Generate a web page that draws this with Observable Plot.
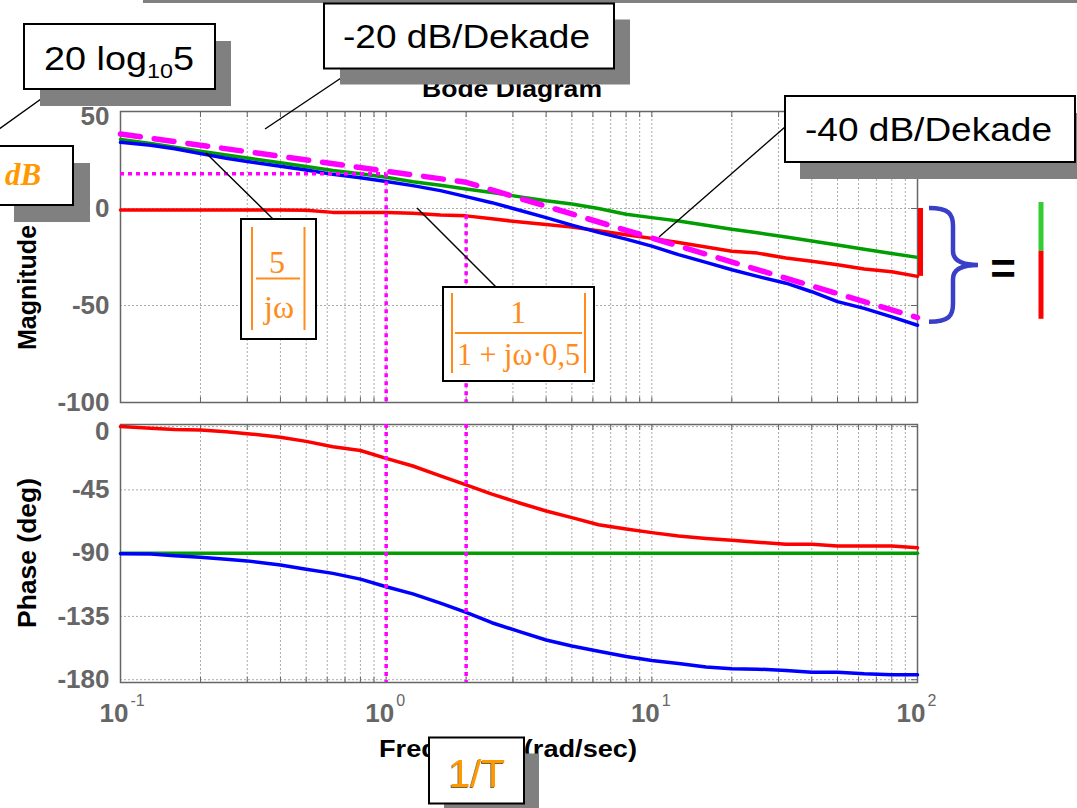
<!DOCTYPE html>
<html><head><meta charset="utf-8">
<script src="https://cdn.jsdelivr.net/npm/d3@7"></script>
<script src="https://cdn.jsdelivr.net/npm/@observablehq/plot@0.6"></script>
<style>
html,body{margin:0;padding:0;background:#fff;}
#wrap{position:relative;width:1077px;height:808px;overflow:hidden;background:#fff;font-family:"Liberation Sans",Arial,sans-serif;}
#mag,#phase{position:absolute;left:0;}
#mag{top:0}
#phase{top:410px}
#ann{position:absolute;left:0;top:0;pointer-events:none;}
</style></head><body>
<div id="wrap"><div id="mag"></div><div id="phase"></div></div>
<script>
// ---- data ----
const freq = [0.1, 0.13, 0.16, 0.2, 0.25, 0.3, 0.4, 0.5, 0.63, 0.8, 1, 1.26, 1.6, 2, 2.5, 3.2, 4, 5, 6.3, 8, 10, 12.6, 16, 20, 25, 32, 40, 50, 63, 80, 100];
// |5/jw| in dB (green)
const magIntegrator = [35.6, 33.5, 31.6, 29.5, 27.6, 26.0, 23.6, 21.7, 19.6, 17.9, 16.1, 13.8, 12.0, 10.1, 8.3, 6.0, 4.0, 2.3, 0.0, -3.0, -4.7, -6.5, -8.6, -10.7, -12.5, -14.7, -16.8, -18.8, -21.0, -23.2, -25.2];
// |1/(1+jw*0,5)| in dB (red)
const magLag = [-0.8, -0.8, -0.8, -0.8, -0.8, -0.8, -0.8, -0.9, -2.0, -2.0, -2.0, -2.5, -3.4, -3.8, -5.3, -7.0, -8.3, -9.6, -11.5, -13.5, -15.4, -17.5, -19.8, -22.0, -23.0, -25.5, -27.2, -29.0, -31.2, -32.6, -35.0];
// total in dB (blue)
const magTotal = [34.1, 32.6, 30.8, 28.3, 25.9, 24.2, 21.8, 19.8, 17.6, 15.8, 13.9, 11.8, 9.2, 6.1, 3.0, -1.0, -4.7, -8.6, -12.3, -15.8, -19.4, -23.8, -27.8, -31.6, -35.0, -38.5, -42.9, -48.0, -51.5, -55.9, -60.2];
// phases in degrees
const phaseIntegrator = [-90, -90, -90, -90, -90, -90, -90, -90, -90, -90, -90, -90, -90, -90, -90, -90, -90, -90, -90, -90, -90, -90, -90, -90, -90, -90, -90, -90, -90, -90, -90];
const phaseLag = [0, -1.2, -2, -2.4, -3.6, -5, -7.5, -10.5, -14.3, -17, -22.6, -28, -35, -41.5, -48, -54.5, -60, -64.7, -69.8, -72.8, -75.4, -77.8, -79.5, -80.8, -82.3, -83.6, -83.7, -85, -85, -85, -86.2];
const phaseTotal = [-90.5, -90.6, -91.8, -93, -94.3, -95.5, -98.5, -101.5, -104.4, -108.5, -113.9, -119, -125.5, -132.1, -139.5, -146, -151.8, -156, -159.8, -163.5, -166.4, -168.5, -171, -172.3, -172.5, -173.5, -174.7, -174.7, -175.8, -176.4, -176.4];
// asymptote (magenta dashed)
const asymFreq = [0.1, 2, 100];
const asymDb = [38.4, 13.5, -56.2];
// helper lines
const cornerFreq = [1, 2];
const cornerDb = 17.9;
// ticks
const magTicks = [50, 0, -50, -100];
const phaseTicks = [0, -45, -90, -135, -180];
const decadeExp = [-1, 0, 1, 2];

// ---- tables ----
const magRows = freq.map((f, i) => ({f, g: magIntegrator[i], r: magLag[i], b: magTotal[i]}));
const phRows = freq.map((f, i) => ({f, g: phaseIntegrator[i], r: phaseLag[i], b: phaseTotal[i]}));
const asymRows = asymFreq.map((f, i) => ({f, db: asymDb[i]}));
const xDomain = [freq[0], freq[freq.length - 1]];
const gridTicks = d3.scaleLog().domain(xDomain).ticks();
const decades = decadeExp.map(e => ({e, f: Math.pow(10, e)}));

const GREEN = "#009e00", RED = "#ff0000", BLUE = "#0000ff", MAG = "#ff00ff";
const FONT = '"Liberation Sans", Arial, Helvetica, sans-serif';
const common = {
  width: 1077, marginLeft: 120, marginRight: 160,
  style: {background: "transparent", fontFamily: FONT, overflow: "visible"}
};
const gridStyle = {stroke: "#aaa", strokeOpacity: 1, strokeDasharray: "2,2", strokeWidth: 1};
const lastF = freq[freq.length - 1];
const redAt2 = magLag[freq.indexOf(cornerFreq[1])];
const tickLabelStyle = {anchor: "left", tickSize: 0, tickPadding: 11, tickFormat: d => String(d),
  fontSize: 26, fontWeight: "bold", color: "#666", label: null};
const inwardX = (anchor) => Plot.axisX({ticks: gridTicks, anchor, tickSize: -5, tickFormat: () => "", color: "#666", label: null});
const LW = 3.5;

const mag = Plot.plot({
  ...common, height: 410, marginTop: 111, marginBottom: 8,
  x: {type: "log", domain: xDomain, axis: null},
  y: {domain: [-100, 50], axis: null},
  marks: [
    Plot.gridX(gridTicks, gridStyle),
    Plot.gridY(magTicks, gridStyle),
    inwardX("bottom"), inwardX("top"),
    Plot.axisY({ticks: magTicks, anchor: "right", tickSize: -7, tickFormat: () => "", color: "#666", label: null}),
    Plot.axisY({...tickLabelStyle, ticks: magTicks.slice(1)}),
    Plot.axisY({...tickLabelStyle, ticks: magTicks.slice(0, 1), dy: 5}),
    Plot.frame({stroke: "#666", strokeWidth: 1.5}),
    Plot.line(magRows, {x: "f", y: "g", stroke: GREEN, strokeWidth: LW}),
    Plot.line(magRows, {x: "f", y: "r", stroke: RED, strokeWidth: LW}),
    Plot.line(magRows, {x: "f", y: "b", stroke: BLUE, strokeWidth: LW}),
    Plot.line(asymRows, {x: "f", y: "db", stroke: MAG, strokeWidth: 5.5, strokeDasharray: "20,14"}),
    Plot.ruleY([cornerDb], {x1: xDomain[0], x2: cornerFreq[0], stroke: MAG, strokeWidth: 3.5, strokeDasharray: "4,4"}),
    Plot.ruleX([cornerFreq[0]], {y1: cornerDb, y2: -100, stroke: MAG, strokeWidth: 3.5, strokeDasharray: "4,4"}),
    Plot.ruleX([cornerFreq[1]], {y1: redAt2, y2: -100, stroke: MAG, strokeWidth: 3.5, strokeDasharray: "4,4"}),
    Plot.ruleX([lastF], {y1: 0, y2: magLag[magLag.length - 1], dx: 3, stroke: RED, strokeWidth: 5, clip: false})
  ]
});
document.getElementById("mag").appendChild(mag);

const ph = Plot.plot({
  ...common, height: 398, marginTop: 14, marginBottom: 126,
  x: {type: "log", domain: xDomain, axis: null},
  y: {domain: [-182, 1.5], axis: null},
  marks: [
    Plot.gridX(gridTicks, gridStyle),
    Plot.gridY(phaseTicks, gridStyle),
    inwardX("bottom"), inwardX("top"),
    Plot.axisY({ticks: phaseTicks, anchor: "right", tickSize: -7, tickFormat: () => "", color: "#666", label: null}),
    Plot.axisY({...tickLabelStyle, ticks: phaseTicks.slice(1)}),
    Plot.axisY({...tickLabelStyle, ticks: phaseTicks.slice(0, 1), dy: 5}),
    Plot.frame({stroke: "#666", strokeWidth: 1.5}),
    Plot.text(decades, {x: "f", text: () => "10", frameAnchor: "bottom", textAnchor: "end", lineAnchor: "bottom",
      dx: 8, dy: 39, fontSize: 26, fontWeight: "bold", fill: "#666"}),
    Plot.text(decades, {x: "f", text: d => String(d.e), frameAnchor: "bottom", textAnchor: "start", lineAnchor: "bottom",
      dx: 10, dy: 23, fontSize: 16, fill: "#666"}),
    Plot.line(phRows, {x: "f", y: "g", stroke: GREEN, strokeWidth: LW}),
    Plot.line(phRows, {x: "f", y: "r", stroke: RED, strokeWidth: LW}),
    Plot.line(phRows, {x: "f", y: "b", stroke: BLUE, strokeWidth: LW}),
    Plot.ruleX(cornerFreq, {stroke: MAG, strokeWidth: 3.5, strokeDasharray: "4,4"})
  ]
});
document.getElementById("phase").appendChild(ph);

// ---- annotation overlay ----
const xM = mag.scale("x"), yM = mag.scale("y");
const ann = d3.select("#wrap").append("svg").attr("id", "ann")
  .attr("width", 1077).attr("height", 808).style("font-family", FONT);
const defs = ann.append("defs");
const flt = defs.append("filter").attr("id", "tshadow").attr("x", "-20%").attr("y", "-20%").attr("width", "140%").attr("height", "140%");
flt.append("feDropShadow").attr("dx", -1).attr("dy", 1).attr("stdDeviation", 0.6).attr("flood-color", "#5a3a10").attr("flood-opacity", 0.8);
const ORANGE = "#ff8c1a";
function box(x, y, w, h, sx, sy) {
  if (sx != null) ann.append("rect").attr("x", x + sx).attr("y", y + sy).attr("width", w).attr("height", h).attr("fill", "#808080");
  ann.append("rect").attr("x", x).attr("y", y).attr("width", w).attr("height", h)
    .attr("fill", "#fff").attr("stroke", "#000").attr("stroke-width", 2);
}
function seg(x1, y1, x2, y2, color, w) {
  ann.append("line").attr("x1", x1).attr("y1", y1).attr("x2", x2).attr("y2", y2)
    .attr("stroke", color || "#000").attr("stroke-width", w || 1.4);
}
function txt(t, x, y, o) {
  const e = ann.append("text").attr("x", x).attr("y", y).text(t);
  for (const k in o) e.attr(k, o[k]);
  return e;
}

// top strip
ann.append("rect").attr("x", 143).attr("y", -20).attr("width", 940).attr("height", 23).attr("fill", "#808080");

// titles
txt("Bode Diagram", 512, 97, {"text-anchor": "middle", "font-size": 23, "font-weight": "bold", textLength: 180, lengthAdjust: "spacingAndGlyphs"});
txt("Magnitude (dB)", 0, 0, {"text-anchor": "middle", "font-size": 25, "font-weight": "bold", transform: "translate(36,259) rotate(-90)"});
txt("Phase (deg)", 0, 0, {"text-anchor": "middle", "font-size": 25, "font-weight": "bold", textLength: 150, lengthAdjust: "spacingAndGlyphs", transform: "translate(36,553) rotate(-90)"});
txt("Frequency (rad/sec)", 379, 757, {"font-size": 24, "font-weight": "bold", textLength: 258, lengthAdjust: "spacingAndGlyphs"});

// leader lines
seg(55, 89, -5, 132);
seg(356, 68, 265, 129);
seg(785, 127, 659, 237);
seg(273, 219, 206, 153);
seg(496, 287, 417, 208);

// callout boxes
box(24, 24, 191, 65, 16, 17);
const t20 = txt("", 44, 70, {"font-size": 34, textLength: 150, lengthAdjust: "spacingAndGlyphs"});
t20.append("tspan").text("20 log");
t20.append("tspan").attr("font-size", 21).attr("dy", 8).text("10");
t20.append("tspan").attr("dy", -8).text("5");

box(324, 3.5, 290, 65, 16, 16);
txt("-20 dB/Dekade", 343, 48, {"font-size": 33, textLength: 247, lengthAdjust: "spacingAndGlyphs"});

box(785, 96, 290, 66, 15, 17);
txt("-40 dB/Dekade", 805, 141, {"font-size": 33, textLength: 247, lengthAdjust: "spacingAndGlyphs"});

box(-3, 146, 76, 59, 17, 17);
txt("dB", 5, 185, {"font-size": 31, "font-weight": "bold", "font-style": "italic", "font-family": '"Liberation Serif", "Times New Roman", serif', fill: "#ff9900"});

const SERIF = '"Liberation Serif", "Times New Roman", serif';
box(241, 219, 75, 120);
seg(252, 227, 252, 330, ORANGE, 2);
seg(304.5, 227, 304.5, 330, ORANGE, 2);
txt("5", 277, 273, {"text-anchor": "middle", "font-size": 32, "font-family": SERIF, fill: ORANGE});
seg(256, 278.5, 300, 278.5, ORANGE, 2);
txt("jω", 279, 318, {"text-anchor": "middle", "font-size": 32, "font-family": SERIF, fill: ORANGE});

box(443, 287, 151, 94);
seg(452, 293, 452, 373, ORANGE, 2);
seg(585, 293, 585, 373, ORANGE, 2);
txt("1", 518, 323, {"text-anchor": "middle", "font-size": 32, "font-family": SERIF, fill: ORANGE});
seg(455, 333, 582, 333, ORANGE, 2);
txt("1 + jω·0,5", 457, 365, {"font-size": 32, "font-family": SERIF, fill: ORANGE, textLength: 123, lengthAdjust: "spacingAndGlyphs"});

box(429, 737.5, 95, 66, 15, 16);
txt("1/T", 477, 787, {"text-anchor": "middle", "font-size": 39, fill: "#ff9900", filter: "url(#tshadow)"});

// brace: from 0 dB to the end of the total curve
const bx = xM.apply(lastF) + 12;
const yTop = yM.apply(0), yBot = yM.apply(magTotal[magTotal.length - 1]) - 3, ym = (yTop + yBot) / 2;
const p = d3.path();
p.moveTo(bx, yTop);
p.bezierCurveTo(bx + 20, yTop, bx + 24, yTop + 6, bx + 24, yTop + 18);
p.lineTo(bx + 24, ym - 14);
p.bezierCurveTo(bx + 24, ym - 4, bx + 34, ym, bx + 49, ym);
p.bezierCurveTo(bx + 34, ym, bx + 24, ym + 4, bx + 24, ym + 14);
p.lineTo(bx + 24, yBot - 18);
p.bezierCurveTo(bx + 24, yBot - 6, bx + 20, yBot, bx, yBot);
ann.append("path").attr("d", p.toString()).attr("fill", "none").attr("stroke", "#3a3fc8").attr("stroke-width", 4.5);

txt("=", bx + 74, ym + 19, {"text-anchor": "middle", "font-size": 44, "font-weight": "bold"});

// legend bars: green length + red length
const lx = xM.apply(lastF) + 124;
const gLen = yM.apply(magIntegrator[magIntegrator.length - 1]) - yTop;
const rLen = yM.apply(magLag[magLag.length - 1]) - yTop;
const y0 = yTop - 6;
seg(lx, y0, lx, y0 + gLen, "#33cc33", 5);
seg(lx, y0 + gLen, lx, y0 + gLen + rLen, RED, 5);
</script>
</body></html>
